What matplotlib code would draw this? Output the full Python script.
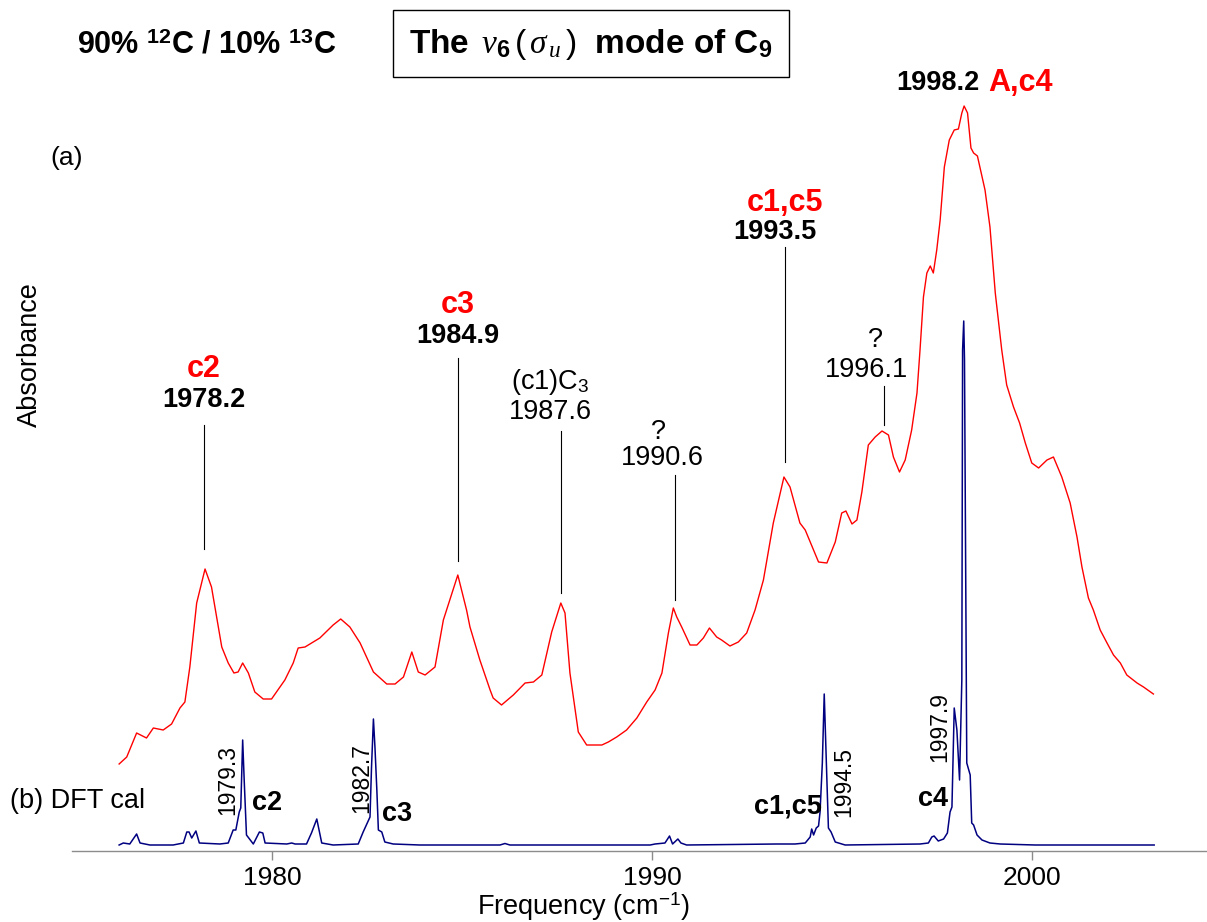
import matplotlib
matplotlib.use("Agg")
import matplotlib.pyplot as plt

plt.rcParams['font.family'] = ['Liberation Sans', 'DejaVu Sans']
plt.rcParams['mathtext.fontset'] = 'custom'
plt.rcParams['mathtext.rm'] = 'Liberation Sans'
plt.rcParams['mathtext.it'] = 'Liberation Serif:italic'
plt.rcParams['mathtext.bf'] = 'Liberation Sans:bold'

# (a) measured absorbance, 90% 12C / 10% 13C sample (arbitrary units, offset)
exp_freq = [1975.98, 1976.18, 1976.44, 1976.70, 1976.88, 1977.14, 1977.36, 1977.58, 1977.71, 1977.84,
            1978.02, 1978.24, 1978.41, 1978.68, 1978.85, 1979.00, 1979.11, 1979.23, 1979.38, 1979.55,
            1979.77, 1979.99, 1980.34, 1980.56, 1980.69, 1980.87, 1981.26, 1981.61, 1981.81, 1982.05,
            1982.32, 1982.67, 1983.02, 1983.24, 1983.46, 1983.68, 1983.85, 1984.03, 1984.29, 1984.51,
            1984.89, 1985.12, 1985.21, 1985.47, 1985.74, 1985.82, 1986.04, 1986.35, 1986.66, 1986.88,
            1987.10, 1987.36, 1987.60, 1987.71, 1987.84, 1988.06, 1988.28, 1988.68, 1988.85, 1989.07,
            1989.33, 1989.60, 1989.86, 1990.08, 1990.26, 1990.43, 1990.56, 1990.65, 1990.78, 1991.00,
            1991.18, 1991.35, 1991.51, 1991.70, 1991.83, 1992.05, 1992.27, 1992.49, 1992.71, 1992.93,
            1993.19, 1993.47, 1993.63, 1993.89, 1994.03, 1994.38, 1994.60, 1994.82, 1994.99, 1995.10,
            1995.26, 1995.39, 1995.52, 1995.69, 1995.87, 1996.05, 1996.22, 1996.35, 1996.51, 1996.66,
            1996.83, 1996.97, 1997.05, 1997.14, 1997.23, 1997.32, 1997.40, 1997.49, 1997.58, 1997.69,
            1997.82, 1997.95, 1998.06, 1998.15, 1998.21, 1998.30, 1998.39, 1998.46, 1998.56, 1998.76,
            1998.89, 1999.03, 1999.20, 1999.33, 1999.51, 1999.67, 1999.82, 1999.99, 2000.17, 2000.39,
            2000.56, 2000.78, 2001.00, 2001.18, 2001.31, 2001.48, 2001.61, 2001.79, 2001.97, 2002.14,
            2002.32, 2002.49, 2002.76, 2002.93, 2003.19]
exp_abs = [0.81, 0.88, 1.12, 1.07, 1.17, 1.15, 1.21, 1.37, 1.43, 1.78,
           2.42, 2.76, 2.58, 1.98, 1.82, 1.72, 1.73, 1.82, 1.72, 1.53,
           1.46, 1.46, 1.65, 1.82, 1.97, 1.98, 2.07, 2.20, 2.26, 2.18,
           2.02, 1.73, 1.61, 1.61, 1.68, 1.93, 1.73, 1.70, 1.78, 2.25,
           2.70, 2.35, 2.18, 1.85, 1.55, 1.47, 1.40, 1.50, 1.62, 1.63,
           1.70, 2.13, 2.42, 2.32, 1.72, 1.13, 1.00, 1.00, 1.03, 1.08,
           1.15, 1.27, 1.43, 1.55, 1.72, 2.12, 2.37, 2.28, 2.18, 2.00,
           2.00, 2.07, 2.17, 2.08, 2.05, 1.99, 2.03, 2.12, 2.35, 2.65,
           3.22, 3.68, 3.58, 3.22, 3.15, 2.83, 2.82, 3.03, 3.32, 3.34,
           3.21, 3.25, 3.53, 4.00, 4.08, 4.14, 4.10, 3.88, 3.73, 3.85,
           4.15, 4.52, 4.95, 5.48, 5.72, 5.79, 5.72, 5.95, 6.25, 6.78,
           7.05, 7.15, 7.16, 7.32, 7.39, 7.32, 6.97, 6.92, 6.89, 6.55,
           6.18, 5.52, 4.95, 4.60, 4.38, 4.22, 4.02, 3.82, 3.77, 3.85,
           3.88, 3.68, 3.42, 3.08, 2.78, 2.47, 2.35, 2.15, 2.02, 1.90,
           1.82, 1.70, 1.62, 1.58, 1.51]

# (b) DFT calculated spectrum
dft_freq = [1975.98, 1976.09, 1976.26, 1976.44, 1976.53, 1976.79, 1977.40, 1977.67, 1977.76, 1977.82,
            1977.89, 1978.00, 1978.09, 1978.63, 1978.85, 1978.98, 1979.05, 1979.14, 1979.18, 1979.23,
            1979.27, 1979.33, 1979.51, 1979.67, 1979.76, 1979.82, 1980.39, 1980.52, 1980.61, 1980.91,
            1981.04, 1981.18, 1981.31, 1981.61, 1982.27, 1982.40, 1982.58, 1982.62, 1982.67, 1982.71,
            1982.76, 1982.80, 1982.89, 1982.97, 1983.19, 1983.89, 1986.00, 1986.13, 1986.26, 1989.95,
            1990.08, 1990.34, 1990.46, 1990.54, 1990.68, 1990.76, 1990.91, 1993.28, 1993.76, 1994.03,
            1994.16, 1994.20, 1994.25, 1994.32, 1994.38, 1994.42, 1994.48, 1994.53, 1994.60, 1994.64,
            1994.71, 1994.82, 1995.08, 1997.05, 1997.27, 1997.36, 1997.42, 1997.53, 1997.67, 1997.77,
            1997.84, 1997.89, 1997.95, 1998.02, 1998.09, 1998.15, 1998.17, 1998.20, 1998.22, 1998.28,
            1998.37, 1998.41, 1998.46, 1998.55, 1998.68, 1998.89, 1999.16, 2000.08, 2003.21]
dft_int = [0.00, 0.02, 0.01, 0.11, 0.02, 0.00, 0.00, 0.02, 0.13, 0.13,
           0.07, 0.14, 0.02, 0.01, 0.02, 0.15, 0.15, 0.33, 0.37, 1.05,
           0.65, 0.10, 0.01, 0.13, 0.12, 0.02, 0.01, 0.02, 0.01, 0.01,
           0.12, 0.26, 0.02, 0.00, 0.01, 0.13, 0.28, 0.78, 1.26, 0.98,
           0.55, 0.15, 0.13, 0.03, 0.01, 0.00, 0.00, 0.015, 0.00, 0.00,
           0.01, 0.02, 0.09, 0.01, 0.06, 0.02, 0.00, 0.01, 0.01, 0.02,
           0.08, 0.16, 0.10, 0.17, 0.19, 0.33, 0.82, 1.51, 0.65, 0.17,
           0.13, 0.03, 0.00, 0.01, 0.02, 0.08, 0.09, 0.04, 0.06, 0.12,
           0.33, 0.38, 1.37, 1.15, 0.65, 1.65, 4.95, 5.24, 4.85, 0.82,
           0.70, 0.22, 0.20, 0.10, 0.05, 0.02, 0.01, 0.00, 0.00]

# assigned experimental bands: position, marker line bottom/top, label heights
band_pos = [1978.2, 1984.9, 1987.6, 1990.6, 1993.5, 1996.1]
band_line_lo = [2.96, 2.84, 2.52, 2.45, 3.83, 4.20]
band_line_hi = [4.20, 4.87, 4.14, 3.70, 5.98, 4.59]
band_names = ['c2', 'c3', '(c1)C$_{3}$', '?', 'c1,c5', '?']
band_name_red = [True, True, False, False, True, False]
band_name_xy = [(1978.2, 4.76), (1984.9, 5.40), (1987.32, 4.63), (1990.18, 4.13), (1993.5, 6.42), (1995.87, 5.05)]
band_value_xy = [(1978.2, 4.45), (1984.9, 5.09), (1987.32, 4.33), (1990.26, 3.87), (1993.24, 6.13), (1995.65, 4.75)]
band_value_bold = [True, True, False, False, True, False]

# calculated line positions and their labels
calc_pos = ['1979.3', '1982.7', '1994.5', '1997.9']
calc_pos_xy = [(1978.84, 0.65), (1982.37, 0.67), (1995.05, 0.63), (1997.58, 1.18)]
calc_names = ['c2', 'c3', 'c1,c5', 'c4']
calc_names_xy = [(1979.87, 0.42), (1983.29, 0.31), (1993.58, 0.39), (1997.39, 0.46)]

W, H = 1207, 922
fig = plt.figure(figsize=(W / 100, H / 100), dpi=100)
ax = fig.add_axes([72 / W, (H - 851) / H, (W - 72) / W, 851 / H])

ax.plot(exp_freq, exp_abs, color='#ff0000', lw=1.0)
ax.plot(dft_freq, dft_int, color='#000080', lw=1.1)

ax.set_xlim(1974.74, 2004.6)
ax.set_ylim(-0.06, 8.45)

for sp in ['left', 'top', 'right']:
    ax.spines[sp].set_visible(False)
ax.spines['bottom'].set_color('#8c8c8c')
ax.spines['bottom'].set_linewidth(1.0)
ax.set_yticks([])
ax.set_xticks([1980, 1990, 2000])
ax.tick_params(axis='x', direction='out', length=6.5, width=1.0, color='#8c8c8c',
               labelsize=19, pad=4)

# marker lines and labels for the measured bands
for i, f in enumerate(band_pos):
    ax.plot([f, f], [band_line_lo[i], band_line_hi[i]], color='black', lw=0.8)
    nx, ny = band_name_xy[i]
    if band_name_red[i]:
        ax.text(nx, ny, band_names[i], color='#ff0000', fontsize=22, fontweight='bold',
                ha='center', va='center')
    else:
        ax.text(nx, ny, band_names[i], color='black', fontsize=19.5, ha='center', va='center')
    vx, vy = band_value_xy[i]
    ax.text(vx, vy, '%.1f' % f, color='black', fontsize=19.5,
            fontweight='bold' if band_value_bold[i] else 'normal', ha='center', va='center')

ax.text(1997.53, 7.62, '1998.2', fontsize=19.5, fontweight='bold', ha='center', va='center')
ax.text(1999.68, 7.62, 'A,c4', fontsize=22, fontweight='bold', color='#ff0000',
        ha='center', va='center')

for lab, (x, y) in zip(calc_pos, calc_pos_xy):
    ax.text(x, y, lab, fontsize=16.5, rotation=90, ha='center', va='center')
for lab, (x, y) in zip(calc_names, calc_names_xy):
    ax.text(x, y, lab, fontsize=19.5, fontweight='bold', ha='center', va='center')


def px(x, y):
    return x / W, 1 - y / H


fig.text(*px(207, 45), '90% $^{\\mathregular{12}}$C / 10% $^{\\mathregular{13}}$C',
         fontsize=22, fontweight='bold', ha='center', va='center')
fig.text(*px(591, 44),
         'The $\\,\\nu_{\\mathregular{6}}\\,(\\,\\sigma_{\\,u}\\,)$  mode of C$_{\\mathregular{9}}$',
         fontsize=24, fontweight='bold', ha='center', va='center',
         bbox=dict(boxstyle='square,pad=0.48', fc='white', ec='black', lw=1.0))
fig.text(*px(67, 158), '(a)', fontsize=19, ha='center', va='center')
fig.text(*px(78, 801), '(b) DFT cal', fontsize=19.5, ha='center', va='center')
fig.text(*px(30, 355), 'Absorbance', fontsize=19.5, rotation=90, ha='center', va='center')
fig.text(*px(583, 907), 'Frequency (cm$^{\\mathregular{-1}}$)', fontsize=19.5,
         ha='center', va='center')

fig.savefig('out.png', dpi=100)
